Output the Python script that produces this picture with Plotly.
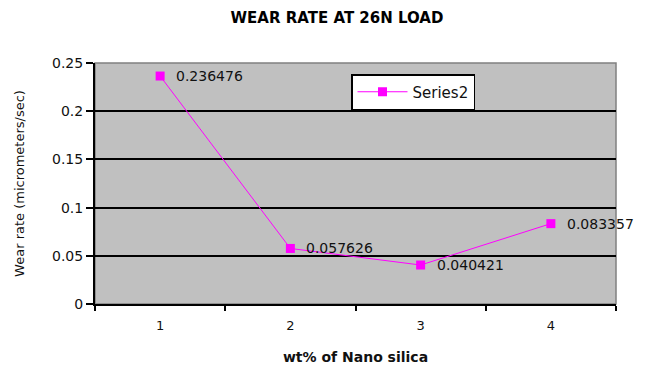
import plotly.graph_objects as go

categories = ["1", "2", "3", "4"]
wear_rate = [0.236476, 0.057626, 0.040421, 0.083357]
value_labels = ["0.236476", "0.057626", "0.040421", "0.083357"]
series_name = "Series2"
y_ticks = [0, 0.05, 0.1, 0.15, 0.2, 0.25]
y_tick_labels = ["0", "0.05", "0.1", "0.15", "0.2", "0.25"]

W, H = 653, 366
ML, MR, MT, MB = 95, 37, 63, 62
FONT = "DejaVu Sans"

fig = go.Figure()
fig.add_trace(go.Scatter(
    x=categories, y=wear_rate, mode="lines+markers", name=series_name,
    line=dict(color="#ff00ff", width=1),
    marker=dict(symbol="square", size=9, color="#ff00ff"),
))

for i, (v, t) in enumerate(zip(wear_rate, value_labels)):
    fig.add_annotation(x=i, y=v, text=t, showarrow=False, xanchor="left",
                       yanchor="middle", xshift=14,
                       font=dict(family=FONT, size=14, color="#111111"))

fig.add_shape(type="rect", xref="paper", yref="paper", x0=0, x1=1, y0=0, y1=1,
              line=dict(color="#808080", width=1.5), layer="below")

fig.update_layout(
    width=W, height=H,
    margin=dict(l=ML, r=MR, t=MT, b=MB, autoexpand=False),
    paper_bgcolor="white", plot_bgcolor="#c0c0c0",
    title=dict(text="<b>WEAR RATE AT 26N LOAD</b>", x=337 / W, xanchor="center",
               y=1 - 18 / H, yanchor="middle",
               font=dict(family=FONT, size=15, color="black")),
    showlegend=True,
    legend=dict(x=(351 - ML) / (W - ML - MR), y=(H - MB - 74) / (H - MT - MB),
                xanchor="left", yanchor="top", bgcolor="white",
                bordercolor="black", borderwidth=1.5,
                font=dict(family=FONT, size=15, color="#111111"),
                itemwidth=50, tracegroupgap=0),
    xaxis=dict(type="category", range=[-0.5, 3.5], tickson="boundaries",
               ticks="outside", ticklen=5, tickwidth=1.5, tickcolor="black",
               ticklabelstandoff=8, automargin=False,
               showgrid=False, showline=True, linecolor="black", linewidth=2,
               tickfont=dict(family=FONT, size=13, color="#111111"),
               title=dict(text="<b>wt% of Nano silica</b>", standoff=21,
                          font=dict(family=FONT, size=14, color="#111111"))),
    yaxis=dict(range=[0, 0.25], tickvals=y_ticks, ticktext=y_tick_labels,
               ticks="outside", ticklen=7, tickwidth=1.5, tickcolor="black",
               automargin=False,
               showgrid=True, gridcolor="black", gridwidth=2,
               zeroline=False, showline=True, linecolor="black", linewidth=2,
               tickfont=dict(family=FONT, size=14, color="#111111"),
               title=dict(text="Wear rate (micrometers/sec)", standoff=24,
                          font=dict(family=FONT, size=13, color="#111111"))),
)

fig.write_html("out.html")
